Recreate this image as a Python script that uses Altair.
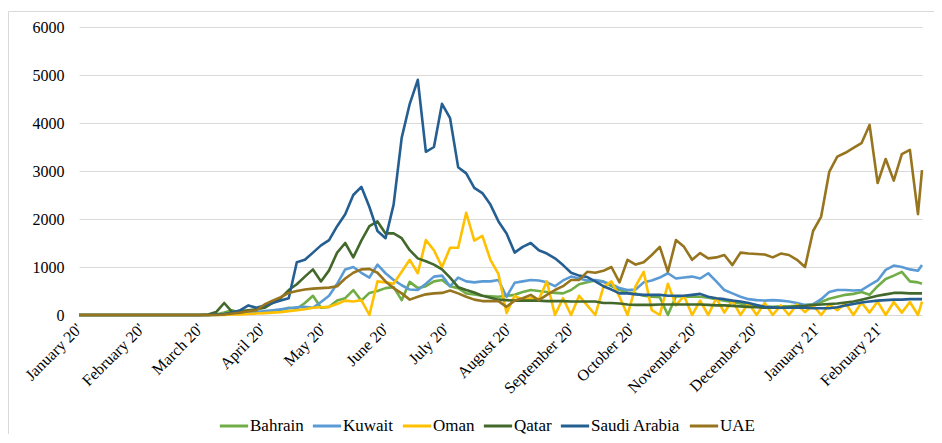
import altair as alt
import pandas as pd

COUNTRIES = ["Bahrain", "Kuwait", "Oman", "Qatar", "Saudi Arabia", "UAE"]
COLORS = ["#70AD47", "#5B9BD5", "#FFC000", "#43682B", "#255E91", "#97741E"]

# sample dates: Jan 1 2020, then every 4 days from Mar 1 2020, last sample Feb 22 2021
GRID = pd.date_range("2020-03-01", periods=90, freq="4D")
DATES = ["2020-01-01T00:00:00"] + [d.strftime("%Y-%m-%dT00:00:00") for d in GRID] + ["2021-02-22T00:00:00"]

BAHRAIN = [0,
    0, 0, 10, 50, 100, 30, 40, 50, 60, 80,
    100, 150, 130, 250, 400, 150, 170, 300, 350, 520,
    300, 460, 500, 560, 580, 310, 690, 560, 600, 700,
    730, 600, 560, 450, 430, 400, 390, 380, 400, 420,
    480, 520, 500, 480, 460, 450, 520, 640, 680, 720,
    700, 600, 520, 470, 450, 400, 380, 370, 0, 390,
    380, 380, 380, 360, 330, 300, 270, 240, 210, 190,
    170, 170, 180, 180, 190, 200, 230, 270, 340, 380,
    420, 440, 480, 420, 600, 750, 820, 900, 700, 680,
    650]
KUWAIT = [0,
    0, 0, 5, 10, 20, 30, 50, 60, 80, 100,
    120, 140, 160, 170, 150, 270, 400, 650, 950, 1000,
    880, 780, 1050, 870, 730, 620, 530, 520, 650, 800,
    820, 600, 780, 700, 680, 700, 700, 730, 380, 670,
    700, 730, 720, 680, 600, 720, 800, 760, 720, 730,
    690, 640, 560, 520, 530, 680, 720, 780, 870, 760,
    780, 800, 760, 870, 700, 520, 450, 380, 330, 310,
    300, 310, 300, 280, 250, 210, 220, 330, 480, 520,
    520, 510, 520, 620, 720, 940, 1030, 1000, 950, 920,
    1040]
OMAN = [0,
    0, 0, 0, 0, 10, 10, 20, 30, 40, 50,
    60, 80, 100, 120, 150, 160, 170, 230, 300, 280,
    310, 0, 700, 680, 650, 900, 1150, 870, 1560, 1350,
    1000, 1400, 1400, 2130, 1550, 1650, 1150, 850, 40, 400,
    320, 350, 320, 700, 0, 350, 0, 400, 200, 0,
    580, 700, 380, 0, 600, 900, 100, 0, 650, 200,
    400, 0, 300, 0, 350, 50, 300, 0, 250, 0,
    250, 0, 200, 0, 220, 60, 200, 0, 220, 100,
    250, 0, 260, 50, 280, 0, 270, 50, 270, 0,
    280]
QATAR = [0,
    0, 10, 60, 250, 60, 80, 100, 120, 150, 250,
    350, 520, 640, 800, 950, 700, 930, 1300, 1500, 1200,
    1550, 1850, 1950, 1700, 1700, 1600, 1350, 1180, 1120, 1050,
    950, 780, 580, 520, 470, 400, 360, 320, 310, 300,
    300, 300, 300, 290, 290, 290, 280, 280, 280, 280,
    250, 250, 240, 220, 210, 210, 210, 220, 220, 220,
    220, 220, 220, 210, 200, 200, 190, 180, 170, 160,
    150, 150, 150, 160, 180, 190, 210, 220, 230, 240,
    260, 280, 320, 360, 400, 430, 460, 460, 450, 450,
    450]
SAUDI = [0,
    0, 0, 10, 20, 50, 100, 200, 150, 200, 250,
    300, 350, 1100, 1150, 1300, 1450, 1560, 1850, 2100, 2500,
    2670, 2250, 1750, 1600, 2300, 3690, 4400, 4900, 3400, 3500,
    4400, 4100, 3080, 2950, 2650, 2540, 2300, 1950, 1700, 1300,
    1420, 1500, 1350, 1280, 1180, 1040, 880, 820, 790, 700,
    600, 530, 450, 450, 430, 420, 420, 420, 400, 400,
    400, 420, 440, 380, 350, 330, 300, 280, 250, 210,
    170, 160, 150, 150, 150, 150, 140, 140, 140, 160,
    200, 230, 260, 280, 300, 310, 320, 320, 330, 330,
    330]
UAE = [0,
    0, 0, 0, 10, 30, 50, 80, 100, 220, 300,
    370, 460, 500, 530, 550, 560, 570, 600, 760, 880,
    950, 960, 880, 700, 560, 450, 320, 380, 430, 450,
    460, 510, 450, 380, 320, 290, 290, 290, 170, 300,
    350, 420, 310, 420, 520, 600, 730, 730, 900, 880,
    920, 1000, 680, 1150, 1050, 1100, 1250, 1420, 900, 1560,
    1420, 1150, 1290, 1180, 1200, 1250, 1040, 1300, 1280, 1270,
    1260, 1200, 1280, 1250, 1150, 1000, 1750, 2050, 2980, 3300,
    3380, 3480, 3580, 3960, 2750, 3250, 2800, 3350, 3440, 2100,
    3020]

SERIES = [BAHRAIN, KUWAIT, OMAN, QATAR, SAUDI, UAE]
Y_TICKS = [0, 1000, 2000, 3000, 4000, 5000, 6000]

rows = []
for name, vals in zip(COUNTRIES, SERIES):
    for d, v in zip(DATES, vals):
        rows.append({"date": d, "country": name, "cases": v})
df = pd.DataFrame(rows)

month_ticks = [alt.DateTime(year=2020, month=m, date=1) for m in range(1, 13)] + \
              [alt.DateTime(year=2021, month=m, date=1) for m in range(1, 3)]

FONT = "Liberation Serif"
W, H = 843, 288

lines = alt.Chart(df).mark_line(strokeWidth=2.6, strokeJoin="round").encode(
    x=alt.X("date:T", title=None,
            scale=alt.Scale(domain=[alt.DateTime(year=2020, month=1, date=1),
                                    alt.DateTime(year=2021, month=2, date=22)]),
            axis=alt.Axis(values=month_ticks, format="%B %y'", labelAngle=-45,
                          labelAlign="right", labelBaseline="middle",
                          labelPadding=11, ticks=False, domain=False, grid=False,
                          labelFont=FONT, labelFontSize=16, labelColor="#000",
                          labelOverlap=False)),
    y=alt.Y("cases:Q", title=None,
            scale=alt.Scale(domain=[0, 6000], nice=False),
            axis=alt.Axis(values=Y_TICKS, format="d", ticks=False, domain=False,
                          gridColor="#D9D9D9", gridWidth=1, labelPadding=15,
                          labelFont=FONT, labelFontSize=16, labelColor="#000")),
    color=alt.Color("country:N", sort=COUNTRIES,
                    scale=alt.Scale(domain=COUNTRIES, range=COLORS),
                    legend=alt.Legend(orient="none", legendX=139, legendY=383,
                                      direction="horizontal", title=None,
                                      symbolType="stroke", symbolSize=800,
                                      symbolStrokeWidth=3, labelFont=FONT,
                                      labelFontSize=17, labelColor="#000",
                                      labelOffset=0, columnPadding=2)),
)

frame = alt.Chart(pd.DataFrame({"k": [0]})).mark_rect(
    fillOpacity=0, stroke="#D9D9D9", strokeWidth=1
).encode(x=alt.value(-70.5), x2=alt.value(857), y=alt.value(-15.5), y2=alt.value(440))

chart = alt.layer(frame, lines).properties(
    width=W, height=H,
    autosize=alt.AutoSizeParams(type="none"),
    padding={"left": 71, "top": 19, "right": 12, "bottom": 119},
).configure_view(stroke=None)

chart.save("out.html", embed_options={"renderer": "svg", "actions": False})
